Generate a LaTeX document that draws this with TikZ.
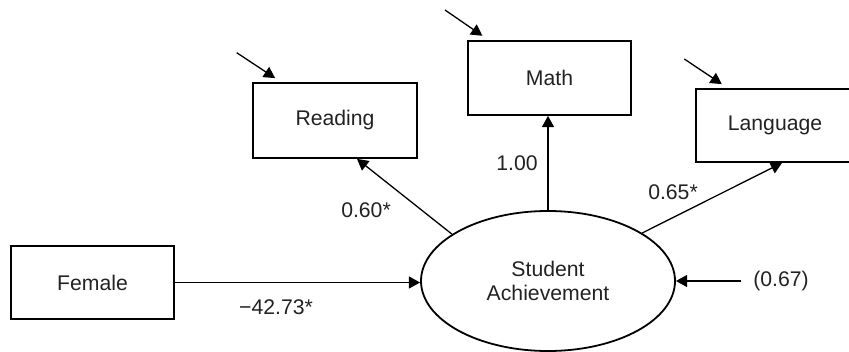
\documentclass[tikz,border=0pt]{standalone}
\usepackage{fontspec}
\setmainfont{Liberation Sans}
\usetikzlibrary{arrows.meta,shapes.geometric,calc}
\definecolor{txt}{HTML}{222222}
\begin{document}
\begin{tikzpicture}[x=0.5pt,y=-0.5pt,
  lab/.style={font=\fontsize{10.6}{11.7}\selectfont, text=txt},
  obs/.style={lab, draw=black, line width=0.9pt, inner sep=0pt},
  lat/.style={lab, ellipse, draw=black, line width=0.9pt, minimum width=127pt, minimum height=70pt, inner sep=0pt, align=center},
  pth/.style={line width=0.65pt, -{Triangle[length=5.6pt,width=6pt]}},
  lbl/.style={lab, inner sep=0pt}
]
\useasboundingbox (0,0) rectangle (849,352);
\node[obs, minimum width=82pt, minimum height=37.5pt] (R) at (335,120.5) {Reading};
\node[obs, minimum width=81.5pt, minimum height=37pt] (M) at (549.5,78) {Math};
\node[obs, minimum width=79pt, minimum height=36.5pt] (L) at (775,125.5) {Language};
\node[obs, minimum width=81.5pt, minimum height=36.5pt] (F) at (92.5,282.5) {Female};
\node[lat] (SA) at (548,281) {Student\\Achievement};

\draw[pth] (F.east) -- (F.east -| SA.west);
\draw[pth] (SA.154) -- ($(R.south)+(22,0)$);
\draw[pth] (SA.north) -- (SA.north |- M.south);
\draw[pth] (SA.27) -- ($(L.south)+(7,0)$);

\node[lbl, inner xsep=5.75pt] (e4) at (781,281) {(0.67)};
\draw[pth] (e4.west) -- (SA.east);

\coordinate (eR) at (236.7,52.7);
\coordinate (eM) at (445,10);
\coordinate (eL) at (684.3,59);
\draw[pth] (eR) -- ($(R.north west)+(23,-4)$);
\draw[pth] (eM) -- ($(M.north west)+(15.3,-4.3)$);
\draw[pth] (eL) -- ($(L.north west)+(26.7,-4)$);

\node[lbl] (l1) at (517,163) {1.00};
\node[lbl] (l2) at (366,210) {0.60*};
\node[lbl] (l3) at (673,192) {0.65*};
\node[lbl] (l4) at (276,307) {−42.73*};
\end{tikzpicture}
\end{document}
